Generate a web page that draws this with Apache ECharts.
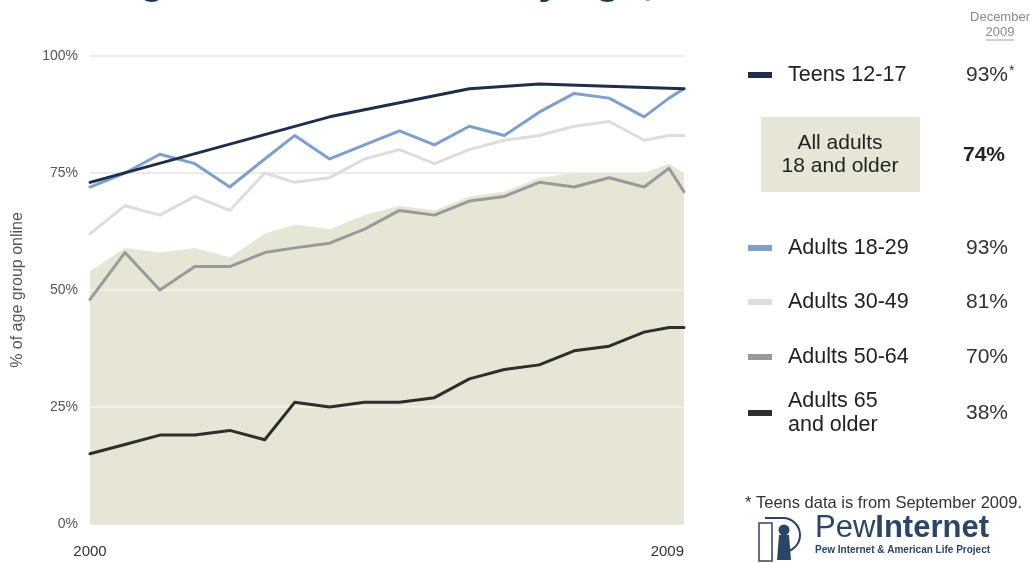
<!DOCTYPE html>
<html>
<head>
<meta charset="utf-8">
<title>Changes in internet use by age, 2000-2009</title>
<script src="https://cdn.jsdelivr.net/npm/echarts@6/dist/echarts.min.js"></script>
<style>
  html, body { margin: 0; padding: 0; background: #ffffff; }
  #chart { width: 1030px; height: 563px; }
</style>
</head>
<body>
<div id="chart"></div>
<script>
// Survey dates, as months after January 2000
const surveyMonth = [0, 7, 14, 21, 28, 35, 41, 48, 55, 62, 69, 76, 83, 90, 97, 104, 111, 116, 119];

// Share of each age group online (%)
const allAdults    = [54, 59, 58, 59, 57, 62, 64, 63, 66, 68, 67, 70, 71, 74, 75, 75, 75, 77, 75];
const adults18to29 = [72, 75, 79, 77, 72, 78, 83, 78, 81, 84, 81, 85, 83, 88, 92, 91, 87, 91, 93];
const adults30to49 = [62, 68, 66, 70, 67, 75, 73, 74, 78, 80, 77, 80, 82, 83, 85, 86, 82, 83, 83];
const adults50to64 = [48, 58, 50, 55, 55, 58, 59, 60, 63, 67, 66, 69, 70, 73, 72, 74, 72, 76, 71];
const adults65plus = [15, 17, 19, 19, 20, 18, 26, 25, 26, 26, 27, 31, 33, 34, 37, 38, 41, 42, 42];

// Teen surveys were run on their own schedule
const teenMonth = [0, 48, 76, 90, 119];
const teens     = [73, 87, 93, 94, 93];

// Axis ticks
const xTickMonths = [0, 119];
const xTickLabels = ['2000', '2009'];
const yTicks = [0, 25, 50, 75, 100];

// Right-hand key: December 2009 figures
const keyNames  = ['Teens 12-17', 'All adults\n18 and older', 'Adults 18-29', 'Adults 30-49', 'Adults 50-64', 'Adults 65\nand older'];
const keyValues = ['93%', '74%', '93%', '81%', '70%', '38%'];

const COLORS = {
  area: '#e7e6d6',
  teens: '#1f2f4b',
  a1829: '#7f9fcc',
  a3049: '#dddddd',
  a5064: '#9a9a9a',
  a65: '#2e2e2b',
  navy: '#2a4568'
};

const FONT = '"Liberation Sans", Arial, Helvetica, sans-serif';

function pairs(xs, ys) { return xs.map((x, i) => [x, ys[i]]); }

function lineSeries(name, xs, ys, color, z) {
  return {
    name: name,
    type: 'line',
    data: pairs(xs, ys),
    symbol: 'none',
    connectNulls: true,
    lineStyle: { color: color, width: 3, join: 'round', cap: 'round' },
    z: z,
    silent: true,
    animation: false
  };
}

const chart = echarts.init(document.getElementById('chart'), null, { renderer: 'canvas' });

// Key rows: swatch + label + value
const keyX = 748, keyTextX = 788, keyValueRight = 1008;
const rowY = [75, 155, 248, 302, 357, 413];
const swatchColors = [COLORS.teens, null, COLORS.a1829, COLORS.a3049, COLORS.a5064, COLORS.a65];

const graphics = [];

// Headline (sits mostly above the canvas)
graphics.push({
  type: 'text', x: 37, y: -17, silent: true,
  style: {
    text: 'Changes in internet use by age, 2000-2009',
    font: 'bold 41px ' + FONT, fill: '#1f3552', align: 'left', verticalAlign: 'middle'
  }
});

// Column heading
graphics.push({
  type: 'text', x: 1000, y: 17, silent: true,
  style: { text: 'December', font: '13px ' + FONT, fill: '#8a8a8a', align: 'center', verticalAlign: 'middle' }
});
graphics.push({
  type: 'text', x: 1000, y: 32, silent: true,
  style: { text: '2009', font: '13px ' + FONT, fill: '#8a8a8a', align: 'center', verticalAlign: 'middle' }
});
graphics.push({
  type: 'line', silent: true,
  shape: { x1: 986, y1: 40, x2: 1014, y2: 40 },
  style: { stroke: '#a0a0a0', lineWidth: 1 }
});

keyNames.forEach((name, i) => {
  const y = rowY[i];
  if (i === 1) {
    graphics.push({
      type: 'rect', silent: true,
      shape: { x: 761, y: 117, width: 159, height: 75 },
      style: { fill: COLORS.area }
    });
    graphics.push({
      type: 'text', x: 840, y: y, silent: true,
      style: { text: name, font: '21px ' + FONT, fill: '#222', align: 'center', verticalAlign: 'middle', lineHeight: 23 }
    });
    graphics.push({
      type: 'text', x: keyValueRight - 3, y: y, silent: true,
      style: { text: keyValues[i], font: 'bold 21px ' + FONT, fill: '#222', align: 'right', verticalAlign: 'middle' }
    });
    return;
  }
  graphics.push({
    type: 'rect', silent: true,
    shape: { x: keyX, y: y - 3, width: 24, height: 6 },
    style: { fill: swatchColors[i] }
  });
  graphics.push({
    type: 'text', x: keyTextX, y: y, silent: true,
    style: { text: name, font: '21.5px ' + FONT, fill: '#222', align: 'left', verticalAlign: 'middle', lineHeight: 24 }
  });
  graphics.push({
    type: 'text', x: keyValueRight, y: y, silent: true,
    style: { text: keyValues[i], font: '21px ' + FONT, fill: '#333', align: 'right', verticalAlign: 'middle' }
  });
});
// Asterisk after the teen value
graphics.push({
  type: 'text', x: keyValueRight + 1, y: rowY[0] - 4, silent: true,
  style: { text: '*', font: '14px ' + FONT, fill: '#333', align: 'left', verticalAlign: 'middle' }
});

// Footnote
graphics.push({
  type: 'text', x: 745, y: 503, silent: true,
  style: { text: '* Teens data is from September 2009.', font: '16.5px ' + FONT, fill: '#333', align: 'left', verticalAlign: 'middle' }
});

// Pew Internet logo mark
graphics.push({
  type: 'rect', silent: true,
  shape: { x: 759, y: 523, width: 13, height: 38 },
  style: { fill: 'none', stroke: COLORS.navy, lineWidth: 1.5 }
});
graphics.push({
  type: 'polyline', silent: true,
  shape: { points: [[765, 518], [783, 518]] },
  style: { fill: 'none', stroke: COLORS.navy, lineWidth: 2 }
});
graphics.push({
  type: 'arc', silent: true,
  shape: { cx: 783, cy: 535, r: 17, startAngle: -Math.PI / 2, endAngle: Math.PI / 2, clockwise: true },
  style: { fill: 'none', stroke: COLORS.navy, lineWidth: 2 }
});
graphics.push({
  type: 'circle', silent: true,
  shape: { cx: 784, cy: 530, r: 5.5 },
  style: { fill: COLORS.navy }
});
graphics.push({
  type: 'polygon', silent: true,
  shape: { points: [[779, 535], [789, 535], [791, 560], [777, 560]] },
  style: { fill: COLORS.navy }
});
graphics.push({
  type: 'text', x: 815, y: 528, silent: true,
  style: {
    text: '{r|Pew}{b|Internet}',
    align: 'left', verticalAlign: 'middle',
    rich: {
      r: { font: '31px ' + FONT, fill: COLORS.navy },
      b: { font: 'bold 31px ' + FONT, fill: COLORS.navy }
    }
  }
});
graphics.push({
  type: 'text', x: 815, y: 550, silent: true,
  style: { text: 'Pew Internet & American Life Project', font: 'bold 10px ' + FONT, fill: COLORS.navy, align: 'left', verticalAlign: 'middle' }
});

const option = {
  backgroundColor: '#ffffff',
  animation: false,
  textStyle: { fontFamily: FONT },
  grid: { left: 90, right: 346, top: 56, bottom: 39, outerBoundsMode: 'none' },
  xAxis: {
    type: 'value',
    min: 0,
    max: 119,
    axisLine: { show: false },
    axisTick: { show: false },
    splitLine: { show: false },
    axisLabel: {
      customValues: xTickMonths,
      formatter: (v) => xTickLabels[xTickMonths.indexOf(v)] || '',
      alignMinLabel: 'center',
      alignMaxLabel: 'right',
      color: '#333',
      fontSize: 15,
      margin: 20
    }
  },
  yAxis: {
    type: 'value',
    min: yTicks[0],
    max: yTicks[yTicks.length - 1],
    interval: 25,
    z: 2,
    name: '% of age group online',
    nameLocation: 'middle',
    nameRotate: 90,
    nameGap: 64,
    nameTextStyle: { color: '#555', fontSize: 16 },
    axisLine: { show: false },
    axisTick: { show: false },
    axisLabel: { formatter: '{value}%', color: '#555', fontSize: 14, margin: 12 },
    splitLine: {
      lineStyle: { color: [COLORS.area, '#f4f3ec', '#f4f3ec', '#e4e4e4', '#e6e6e6'], width: 1.5 }
    }
  },
  series: [
    {
      name: 'All adults 18 and older',
      type: 'line',
      data: pairs(surveyMonth, allAdults),
      symbol: 'none',
      lineStyle: { width: 0 },
      areaStyle: { color: COLORS.area, opacity: 1 },
      z: 1,
      silent: true
    },
    lineSeries('Adults 30-49', surveyMonth, adults30to49, COLORS.a3049, 3),
    lineSeries('Adults 50-64', surveyMonth, adults50to64, COLORS.a5064, 4),
    lineSeries('Adults 65 and older', surveyMonth, adults65plus, COLORS.a65, 5),
    lineSeries('Adults 18-29', surveyMonth, adults18to29, COLORS.a1829, 6),
    lineSeries('Teens 12-17', teenMonth, teens, COLORS.teens, 7)
  ],
  graphic: { elements: graphics }
};

chart.setOption(option);
</script>
</body>
</html>
